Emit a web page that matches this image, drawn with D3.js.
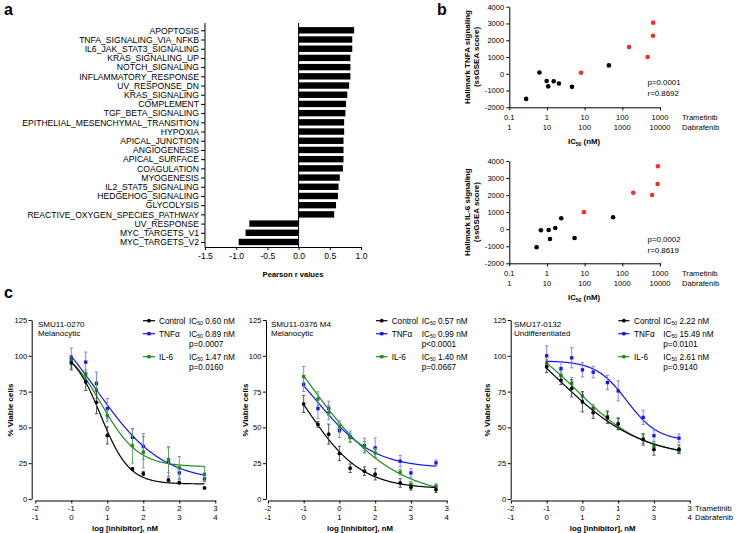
<!DOCTYPE html>
<html><head><meta charset="utf-8">
<script src="https://cdn.jsdelivr.net/npm/d3@7"></script>
<style>body{margin:0;background:#fff}svg{display:block}</style>
</head><body><svg id="fig" width="740" height="533"></svg>
<script>
// ---------------- DATA ----------------
// Panel a
const hallmarkSets = ["APOPTOSIS","TNFA_SIGNALING_VIA_NFKB","IL6_JAK_STAT3_SIGNALING","KRAS_SIGNALING_UP","NOTCH_SIGNALING","INFLAMMATORY_RESPONSE","UV_RESPONSE_DN","KRAS_SIGNALING","COMPLEMENT","TGF_BETA_SIGNALING","EPITHELIAL_MESENCHYMAL_TRANSITION","HYPOXIA","APICAL_JUNCTION","ANGIOGENESIS","APICAL_SURFACE","COAGULATION","MYOGENESIS","IL2_STAT5_SIGNALING","HEDGEHOG_SIGNALING","GLYCOLYSIS","REACTIVE_OXYGEN_SPECIES_PATHWAY","UV_RESPONSE","MYC_TARGETS_V1","MYC_TARGETS_V2"];
const pearsonR = [0.89,0.86,0.86,0.83,0.83,0.83,0.81,0.78,0.76,0.75,0.73,0.73,0.72,0.72,0.72,0.71,0.66,0.64,0.63,0.60,0.57,-0.79,-0.85,-0.96];
const pearsonTicks = [-1.5,-1.0,-0.5,0.0,0.5,1.0];

// Panel b
const trametinibTicks = [0.1,1,10,100,1000];
const dabrafenibTicks = ["1","10","100","1000","10000"];
const scoreTicks = [-2000,-1000,0,1000,2000,3000,4000];
const tnfaIC50 = [0.28,0.63,0.98,1.08,1.51,2.08,4.6,8.0,44,150,470,650,660];
const tnfaScore = [-1500,80,-430,-750,-450,-580,-780,60,500,1600,1000,2270,3050];
const tnfaResistant = [0,0,0,0,0,0,0,1,0,1,1,1,1];
const il6IC50 = [0.53,0.69,1.11,1.2,1.66,2.39,5.4,9.6,57,195,617,865,880];
const il6Score = [-1060,-65,-50,-575,70,640,-516,1000,698,2141,2006,2651,3689];
const il6Resistant = [0,0,0,0,0,0,0,1,0,1,1,1,1];

// Panel c
const doseLog = [-1,-0.6,-0.3,0,0.3,0.7,1,1.7,2,2.7];
const viabTicks = [0,25,50,75,100,125];
const logTicksRow1 = [-2,-1,0,1,2,3];
const logTicksRow2 = ["-1","0","1","2","3","4"];
const ctrl1 = [95.1,81.8,67.5,44.4,null,21.0,17.8,13.1,11.4,7.7];
const ctrl1Err = [5,6,8,6,null,1,1.5,1.5,1,0.5];
const tnfa1 = [98.4,95.6,80.6,63.1,null,43.0,36.7,25.7,18.2,14.0];
const tnfa1Err = [7,7,8,7,null,6,9,10,4,2];
const il61 = [96.5,87.1,76.2,58.2,null,37.1,32.7,27.6,21.7,17.3];
const il61Err = [3,3,6,4,null,12,11,9,8,5];
const ctrl2 = [66.4,52.1,45.3,31.8,21.5,19.4,17.3,11.2,8.2,6.5];
const ctrl2Err = [6,2,7,5,3,3,4,3,2,2];
const tnfa2 = [80.1,63.1,63.3,47.9,43.5,37.4,35.7,26.4,18.2,25.2];
const tnfa2Err = [5,7,5,5,4,5,7,4,3,2];
const il62 = [85.5,69.9,60.3,50.5,43.0,36.2,32.2,18.7,10.3,9.1];
const il62Err = [7,5,5,4,3,4,3,2,2,1.5];
const ctrl3 = [92.3,82.9,77.3,67.8,60.3,56.8,52.3,41.6,34.6,34.8];
const ctrl3Err = [4,3,6,7,4,4,4,4,4,3];
const tnfa3 = [100.0,91.1,98.6,90.2,88.6,81.3,75.5,57.0,44.2,42.5];
const tnfa3Err = [7,5,7,5,4,5,7,5,4,3];
const il63 = [94.6,86.4,80.8,72.0,63,57.7,52.8,41.8,36.9,33.6];
const il63Err = [3,3,4,3,3,4,4,3,3,2];
// fitted 4-parameter logistic: [top, bottom, logIC50, hill]
const fitCtrl1 = [106,10.5,-0.18,1.1], fitTnfa1 = [140,12,-0.296,0.476], fitIl61 = [110,22.5,-0.163,0.852];
const fitCtrl2 = [120,7,-0.932,0.564], fitTnfa2 = [115,21.5,-0.627,0.546], fitIl62 = [170,0,-0.97,0.352];
const fitCtrl3 = [140,28,-0.693,0.368], fitTnfa3 = [96.5,40.5,1.245,1.0], fitIl63 = [120,30,-0.124,0.468];
const cellLines = [["SMU11-0270","Melanocytic"],["SMU11-0376 M4","Melanocytic"],["SMU17-0132","Undifferentiated"]];
const treatments = ["Control","TNFα","IL-6"];
const ic50Text = [["0.60 nM","0.89 nM","1.47 nM"],["0.57 nM","0.99 nM","1.40 nM"],["2.22 nM","15.49 nM","2.61 nM"]];
const pText = [[null,"p=0.0007","p=0.0160"],[null,"p<0.0001","p=0.0667"],[null,"p=0.0101","p=0.9140"]];

// ---------------- DRAWING ----------------
const FONT = "'Liberation Sans', Arial, Helvetica, sans-serif";
const svg = d3.select("#fig").attr("font-family", FONT);
const COL = ["#000000","#1212ff","#1e8c1e"];
const ECOL = ["#444444","#7777ff","#5aa55a"];

function styleAxis(g, size){
  g.attr("font-family", FONT).attr("font-size", size);
  g.selectAll("path,line").attr("stroke","#000").attr("stroke-width",1);
  g.selectAll("text").attr("fill","#000");
}
function letter(t,x,y){ svg.append("text").attr("x",x).attr("y",y).attr("font-size",16).attr("font-weight","bold").text(t); }
letter("a",4,15); letter("b",437,15); letter("c",4,298);

// ---- Panel a ----
const xA = d3.scaleLinear().domain([-1.5,1]).range([205,361]);
const yA = d3.scalePoint().domain(hallmarkSets).range([30.3,242]);
const gA = svg.append("g");
gA.selectAll("rect.bar").data(hallmarkSets).join("rect")
  .attr("x",(d,i)=>xA(Math.min(0,pearsonR[i])))
  .attr("width",(d,i)=>Math.abs(xA(pearsonR[i])-xA(0)))
  .attr("y",d=>yA(d)-3.2).attr("height",6.4).attr("fill","#000");
gA.append("line").attr("x1",xA(0)).attr("x2",xA(0)).attr("y1",23).attr("y2",247).attr("stroke","#000");
const axA = gA.append("g").attr("transform","translate(205,0)").call(d3.axisLeft(yA).tickSize(4).tickPadding(2));
axA.select(".domain").remove();
styleAxis(axA,8.6);
gA.append("line").attr("x1",205).attr("x2",205).attr("y1",23).attr("y2",247.5).attr("stroke","#000");
const axAx = gA.append("g").attr("transform","translate(0,247)")
  .call(d3.axisBottom(xA).tickValues(pearsonTicks).tickFormat(d=>d.toFixed(1)).tickSize(3).tickSizeOuter(0).tickPadding(3));
styleAxis(axAx,8.6);
gA.append("text").attr("x",293).attr("y",277).attr("text-anchor","middle").attr("font-size",7.6).attr("font-weight","bold").text("Pearson r values");

// ---- Panel b ----
const xB = d3.scaleLog().domain([0.1,1000]).range([509.3,660]);
function scatterPanel(y0,y1,ic,score,res,title,pStr,rStr,pY){
  const y = d3.scaleLinear().domain([-2000,4000]).range([y1,y0]);
  const g = svg.append("g");
  const ay = g.append("g").attr("transform","translate(509.3,0)").call(d3.axisLeft(y).tickValues(scoreTicks).tickFormat(d=>String(d)).tickSize(3).tickSizeOuter(0).tickPadding(2));
  styleAxis(ay,7.6);
  const ax = g.append("g").attr("transform",`translate(0,${y1})`).call(d3.axisBottom(xB).tickValues(trametinibTicks).tickFormat(()=>"").tickSize(3).tickSizeOuter(0));
  styleAxis(ax,7.6);
  g.selectAll("text.r1").data(trametinibTicks).join("text").attr("x",d=>xB(d)).attr("y",y1+13).attr("text-anchor","middle").attr("font-size",7.6).text(d=>String(d));
  g.selectAll("text.r2").data(dabrafenibTicks).join("text").attr("x",(d,i)=>xB(trametinibTicks[i])).attr("y",y1+22.5).attr("text-anchor","middle").attr("font-size",7.6).text(d=>d);
  g.append("text").attr("x",682).attr("y",y1+13).attr("font-size",7.6).text("Trametinib");
  g.append("text").attr("x",682).attr("y",y1+22.5).attr("font-size",7.6).text("Dabrafenib");
  const t = g.append("text").attr("x",584).attr("y",y1+37).attr("text-anchor","middle").attr("font-size",7.8).attr("font-weight","bold");
  t.append("tspan").text("IC"); t.append("tspan").attr("font-size",5).attr("dy",2).text("50"); t.append("tspan").attr("dy",-2).text(" (nM)");
  const cy = (y0+y1)/2;
  g.append("text").attr("transform",`translate(469.5,${cy}) rotate(-90)`).attr("text-anchor","middle").attr("font-size",8).attr("font-weight","bold").text(title);
  g.append("text").attr("transform",`translate(479,${cy}) rotate(-90)`).attr("text-anchor","middle").attr("font-size",8).attr("font-weight","bold").text("(ssGSEA score)");
  g.selectAll("circle").data(ic).join("circle").attr("cx",d=>xB(d)).attr("cy",(d,i)=>y(score[i])).attr("r",2.3)
    .attr("fill",(d,i)=>res[i]?"#ff2a2a":"#000");
  g.append("text").attr("x",647.5).attr("y",pY).attr("font-size",7.9).text(pStr);
  g.append("text").attr("x",647.5).attr("y",pY+11).attr("font-size",7.9).text(rStr);
}
scatterPanel(6.7,107.3,tnfaIC50,tnfaScore,tnfaResistant,"Hallmark TNFA signaling","p=0.0001","r=0.8692",85);
scatterPanel(161,263.3,il6IC50,il6Score,il6Resistant,"Hallmark IL-6 signaling","p=0.0002","r=0.8619",241.5);

// ---- Panel c ----
const cLayouts = [
  {yAxisX:31.7,x0:35.3,x1:215.3,labX:38,lineX:[143,155],txtX:159,icX:189,yTitleX:13,xTitleX:125,drugs:false},
  {yAxisX:266,x0:267.9,x1:446.7,labX:271,lineX:[376,387.5],txtX:391.7,icX:421.7,yTitleX:248,xTitleX:360,drugs:false},
  {yAxisX:510.7,x0:510.9,x1:689.7,labX:514,lineX:[618.3,629.5],txtX:634,icX:663.3,yTitleX:490,xTitleX:602.7,drugs:true}
];
const cSeries = [
  [[ctrl1,ctrl1Err,fitCtrl1],[tnfa1,tnfa1Err,fitTnfa1],[il61,il61Err,fitIl61]],
  [[ctrl2,ctrl2Err,fitCtrl2],[tnfa2,tnfa2Err,fitTnfa2],[il62,il62Err,fitIl62]],
  [[ctrl3,ctrl3Err,fitCtrl3],[tnfa3,tnfa3Err,fitTnfa3],[il63,il63Err,fitIl63]]
];
const yC = d3.scaleLinear().domain([0,125]).range([499,320]);
const symC = [d3.symbol().type(d3.symbolCircle).size(11), d3.symbol().type(d3.symbolSquare).size(11), d3.symbol().type(d3.symbolSquare).size(11)];
function logistic(p,x){ return p[1] + (p[0]-p[1])/(1+Math.pow(10,(x-p[2])*p[3])); }
const fitX = d3.range(-1,2.7001,0.02);
const LF = 8.2;

cLayouts.forEach((L,ci)=>{
  const g = svg.append("g");
  const x = d3.scaleLinear().domain([-2,3]).range([L.x0,L.x1]);
  const ay = g.append("g").attr("transform",`translate(${L.yAxisX},0)`).call(d3.axisLeft(yC).tickValues(viabTicks).tickSize(3).tickSizeOuter(0).tickPadding(1.5));
  styleAxis(ay,7.6);
  const ax = g.append("g").attr("transform","translate(0,500.5)").call(d3.axisBottom(x).tickValues(logTicksRow1).tickFormat(()=>"").tickSize(3).tickSizeOuter(0));
  styleAxis(ax,7.6);
  g.selectAll("text.r1").data(logTicksRow1).join("text").attr("x",d=>x(d)).attr("y",510.8).attr("text-anchor","middle").attr("font-size",7.8).text(d=>String(d));
  g.selectAll("text.r2").data(logTicksRow2).join("text").attr("x",(d,i)=>x(logTicksRow1[i])).attr("y",519.8).attr("text-anchor","middle").attr("font-size",7.8).text(d=>d);
  if(L.drugs){
    g.append("text").attr("x",695).attr("y",510.8).attr("font-size",7.8).text("Trametinib");
    g.append("text").attr("x",695).attr("y",519.8).attr("font-size",7.8).text("Dabrafenib");
  }
  g.append("text").attr("x",L.xTitleX).attr("y",531).attr("text-anchor","middle").attr("font-size",7.8).attr("font-weight","bold").text("log [inhibitor], nM");
  g.append("text").attr("transform",`translate(${L.yTitleX},410) rotate(-90)`).attr("text-anchor","middle").attr("font-size",8).attr("font-weight","bold").text("% Viable cells");
  g.append("text").attr("x",L.labX).attr("y",326.7).attr("font-size",8).text(cellLines[ci][0]);
  g.append("text").attr("x",L.labX).attr("y",336.4).attr("font-size",8).text(cellLines[ci][1]);

  const line = d3.line().x(d=>x(d[0])).y(d=>yC(d[1]));
  [1,2,0].forEach(si=>{
    const [vals,errs,fit] = cSeries[ci][si];
    g.append("path").attr("d",line(fitX.map(v=>[v,logistic(fit,v)]))).attr("fill","none").attr("stroke",COL[si]).attr("stroke-width",1.2);
    const pts = doseLog.map((d,i)=>({x:d,v:vals[i],e:errs[i]})).filter(p=>p.v!==null);
    const eg = g.append("g").attr("stroke",ECOL[si]).attr("stroke-width",0.9);
    pts.forEach(p=>{
      const px=x(p.x);
      eg.append("line").attr("x1",px).attr("x2",px).attr("y1",yC(p.v-p.e)).attr("y2",yC(p.v+p.e));
      eg.append("line").attr("x1",px-1.6).attr("x2",px+1.6).attr("y1",yC(p.v-p.e)).attr("y2",yC(p.v-p.e));
      eg.append("line").attr("x1",px-1.6).attr("x2",px+1.6).attr("y1",yC(p.v+p.e)).attr("y2",yC(p.v+p.e));
    });
    g.selectAll(null).data(pts).join("path").attr("d",symC[si]()).attr("transform",p=>`translate(${x(p.x)},${yC(p.v)})`).attr("fill",COL[si]);
  });
  const rows = [323.6,336.6,359.6];
  const pRows = [null,347.2,370.2];
  treatments.forEach((tr,si)=>{
    const yy = rows[si]-2.9;
    g.append("line").attr("x1",L.lineX[0]).attr("x2",L.lineX[1]).attr("y1",yy).attr("y2",yy).attr("stroke",COL[si]).attr("stroke-width",1.2);
    g.append("path").attr("d",symC[si]()).attr("transform",`translate(${(L.lineX[0]+L.lineX[1])/2},${yy})`).attr("fill",COL[si]);
    g.append("text").attr("x",L.txtX).attr("y",rows[si]).attr("font-size",LF).text(tr);
    const t = g.append("text").attr("x",L.icX).attr("y",rows[si]).attr("font-size",LF);
    t.append("tspan").text("IC"); t.append("tspan").attr("font-size",5.2).attr("dy",1.8).text("50"); t.append("tspan").attr("dy",-1.8).text(" "+ic50Text[ci][si]);
    if(pText[ci][si]) g.append("text").attr("x",L.icX).attr("y",pRows[si]).attr("font-size",LF).text(pText[ci][si]);
  });
});
</script></body></html>
